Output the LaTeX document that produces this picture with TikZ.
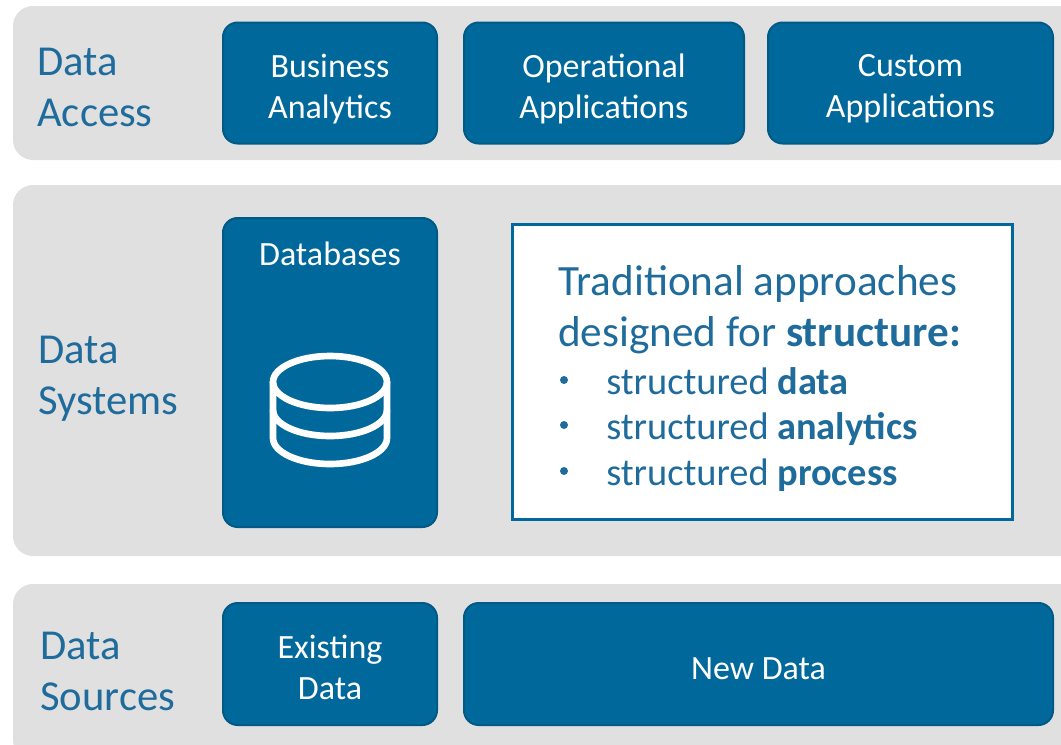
\documentclass[tikz,border=0pt]{standalone}
\usepackage{fontspec}
\setmainfont{Carlito}
\definecolor{bleu}{HTML}{00689B}
\definecolor{bleufonce}{HTML}{005A85}
\definecolor{gris}{HTML}{E0E0E0}
\definecolor{titre}{HTML}{1F6C9C}
\def\px{0.75pt}
\begin{document}
\begin{tikzpicture}[x=0.75pt, y=-0.75pt]
\tikzset{panneau/.style={fill=gris, rounded corners=15pt, inner sep=0pt},
  bloc/.style={draw=bleufonce, line width=1.5pt, fill=bleu, rounded corners=11pt, inner sep=0pt},
  texte/.style={text=white, align=center, inner sep=0pt, font=\fontsize{25.5}{30.75}\selectfont},
  etiquette/.style={anchor=west, align=left, inner sep=0pt, text=titre, font=\fontsize{32}{38.25}\selectfont},
  ligne/.style={anchor=base west, inner sep=0pt, text=titre, font=\fontsize{32.4}{36}\selectfont},
  puce/.style={anchor=base west, inner sep=0pt, text=titre, font=\fontsize{28.8}{30}\selectfont},
  point/.style={circle, fill=titre, inner sep=0pt, minimum size=6pt},
  cylindre/.style={draw=white, line width=5pt}}
\useasboundingbox (0, 0) rectangle (1061, 744);
\clip (0, 0) rectangle (1061, 744);
\node[panneau, minimum width=1067*\px, minimum height=154*\px] (P1) at (546.5, 83) {};
\node[panneau, minimum width=1067*\px, minimum height=371*\px] (P2) at (546.5, 370.5) {};
\node[panneau, minimum width=1067*\px, minimum height=176*\px] (P3) at (546.5, 672) {};
\node[etiquette] (L1) at (37, 87) {Data\\Access};
\node[etiquette] (L2) at (38, 379) {Data\\Systems};
\node[etiquette] (L3) at (40, 671) {Data\\Sources};
\node[bloc, minimum width=214*\px, minimum height=121*\px] (A1) at (330, 83) {};
\node[bloc, minimum width=280*\px, minimum height=121*\px] (A2) at (604, 83) {};
\node[bloc, minimum width=285*\px, minimum height=121*\px] (A3) at (910.5, 83) {};
\node[texte] (A1T) at (330, 89.5) {Business\\Analytics};
\node[texte] (A2T) at (604, 89) {Operational\\Applications};
\node[texte] (A3T) at (910.5, 89) {Custom\\Applications};
\node[bloc, minimum width=214*\px, minimum height=309*\px] (S1) at (330, 372.5) {};
\node[texte] (S1T) at (330, 254) {Databases};
\draw[cylindre] (330, 382) ellipse [x radius=57, y radius=26];
\draw[cylindre] (273, 410) arc [start angle=180, end angle=0, x radius=57, y radius=26];
\draw[cylindre] (273, 382) -- (273, 438) arc [start angle=180, end angle=0, x radius=57, y radius=26] -- (387, 382);
\node[draw=bleu, line width=2.25pt, fill=white, minimum width=500*\px, minimum height=295*\px, inner sep=0pt] (S2) at (762, 371.5) {};
\node[ligne] (T1) at (558, 295) {Traditional approaches};
\node[ligne] (T2) at (558, 346) {designed for \textbf{structure:}};
\node[point] (B1) at (564, 380) {};
\node[puce] (I1) at (606, 394) {structured \textbf{data}};
\node[point] (B2) at (564, 425) {};
\node[puce] (I2) at (606, 439) {structured \textbf{analytics}};
\node[point] (B3) at (564, 471) {};
\node[puce] (I3) at (606, 485) {structured \textbf{process}};
\node[bloc, minimum width=214*\px, minimum height=122*\px] (D1) at (330, 664) {};
\node[bloc, minimum width=589*\px, minimum height=122*\px] (D2) at (758.5, 664) {};
\node[texte] (D1T) at (330, 667) {Existing\\Data};
\node[texte] (D2T) at (758.5, 669) {New Data};
\end{tikzpicture}
\end{document}
